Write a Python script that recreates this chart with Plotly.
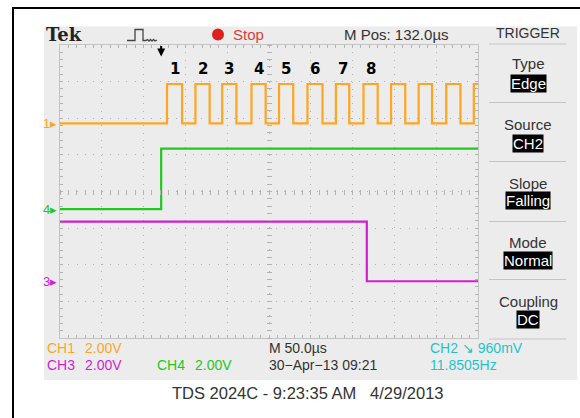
import plotly.graph_objects as go

# ---------------- data ----------------
TIME_RANGE_US = [-121, 379]          # 10 div x 50 us, trigger at t = 0
CH1_RISE_US = [7, 41, 73, 108, 141, 175, 209, 242, 275, 308, 341, 374]
CH1_FALL_US = [25, 58, 90, 125, 158, 193, 225, 259, 292, 324, 358]
CH1_HIGH_V = 2.15
CH4_RISE_US = 0
CH4_HIGH_V = 3.3
CH3_FALL_US = 246
CH3_HIGH_V = 3.25
VOLTS_PER_DIV = 2.0
CH1_OFFSET_DIV = 1.86
CH4_OFFSET_DIV = -0.48
CH3_OFFSET_DIV = -2.45
PULSE_LABELS = ["1", "2", "3", "4", "5", "6", "7", "8"]

ORANGE = "#ffa51f"
GREEN = "#22c822"
MAGENTA = "#d21ed2"
CYAN = "#1ec4cc"
GRID = "#b2b2b2"
TXT = "#333333"
FONT = "Liberation Sans, Arial, sans-serif"

# ---------------- geometry helpers (pixel -> paper) ----------------
L, T, R, B = 60, 45, 478, 338
W, H = R - L, B - T


def px(x):
    return (x - L) / W


def py(y):
    return (B - y) / H


def div(offset, volts):
    return offset + volts / VOLTS_PER_DIV


# ---------------- traces ----------------
t0, t1 = TIME_RANGE_US
ch1_x = [t0]
ch1_y = [div(CH1_OFFSET_DIV, 0)]
for i, r in enumerate(CH1_RISE_US):
    ch1_x.append(r)
    ch1_y.append(div(CH1_OFFSET_DIV, CH1_HIGH_V))
    if i < len(CH1_FALL_US):
        ch1_x.append(CH1_FALL_US[i])
        ch1_y.append(div(CH1_OFFSET_DIV, 0))
ch1_x.append(t1)
ch1_y.append(ch1_y[-1])

ch4_x = [t0, CH4_RISE_US, t1]
ch4_y = [div(CH4_OFFSET_DIV, 0), div(CH4_OFFSET_DIV, CH4_HIGH_V), div(CH4_OFFSET_DIV, CH4_HIGH_V)]
ch3_x = [t0, CH3_FALL_US, t1]
ch3_y = [div(CH3_OFFSET_DIV, CH3_HIGH_V), div(CH3_OFFSET_DIV, 0), div(CH3_OFFSET_DIV, 0)]

fig = go.Figure()
for xs, ys, col in [(ch1_x, ch1_y, ORANGE), (ch4_x, ch4_y, GREEN), (ch3_x, ch3_y, MAGENTA)]:
    fig.add_trace(go.Scatter(x=xs, y=ys, mode="lines", line=dict(color=col, width=2.2, shape="hv"),
                             showlegend=False, hoverinfo="skip"))

# dummy traces so the centre tick axes get drawn
fig.add_trace(go.Scatter(x=[None], y=[None], xaxis="x2", yaxis="y", showlegend=False, hoverinfo="skip"))
fig.add_trace(go.Scatter(x=[None], y=[None], xaxis="x", yaxis="y2", showlegend=False, hoverinfo="skip"))

# ---------------- axes ----------------
xgrid = dict(range=TIME_RANGE_US, tickmode="linear", tick0=t0, dtick=50,
             showticklabels=False, zeroline=False, fixedrange=True)
ygrid = dict(range=[-4, 4], tickmode="linear", tick0=-4, dtick=1,
             showticklabels=False, zeroline=False, fixedrange=True)

fig.update_layout(
    xaxis=dict(**xgrid, showgrid=True, gridcolor=GRID, griddash="1px,6.3px", gridwidth=1,
               ticks="inside", ticklen=3, tickcolor=GRID, showline=True, linecolor="#c4c4c4",
               mirror="allticks",
               minor=dict(tick0=t0, dtick=10, ticks="inside", ticklen=3, tickcolor=GRID, showgrid=False)),
    yaxis=dict(**ygrid, showgrid=True, gridcolor=GRID, griddash="1px,7.3px", gridwidth=1,
               ticks="inside", ticklen=3, tickcolor=GRID, showline=True, linecolor="#c4c4c4",
               mirror="allticks",
               minor=dict(tick0=-4, dtick=0.2, ticks="inside", ticklen=3, tickcolor=GRID, showgrid=False)),
    xaxis2=dict(range=TIME_RANGE_US, overlaying="x", anchor="free", position=0.5 + 2.5 / H,
                tickmode="linear", tick0=t0, dtick=10, ticks="outside", ticklen=5, tickcolor=GRID,
                showticklabels=False, showgrid=False, zeroline=False, showline=False, fixedrange=True),
    yaxis2=dict(range=[-4, 4], overlaying="y", anchor="free", position=0.5 + 2.5 / W,
                tickmode="linear", tick0=-4, dtick=0.2, ticks="outside", ticklen=5, tickcolor=GRID,
                showticklabels=False, showgrid=False, zeroline=False, showline=False, fixedrange=True),
)

# ---------------- shapes ----------------
shapes = []
# grey instrument frame
shapes.append(dict(type="rect", xref="paper", yref="paper", x0=px(44), x1=px(577), y0=py(380), y1=py(26.5),
                   fillcolor="#ececec", line=dict(width=0), layer="below"))
# black outer border (left and top)
shapes.append(dict(type="line", xref="paper", yref="paper", x0=px(13), x1=px(13), y0=py(7), y1=py(420),
                   line=dict(color="black", width=2)))
shapes.append(dict(type="line", xref="paper", yref="paper", x0=px(12), x1=px(582), y0=py(8), y1=py(8),
                   line=dict(color="black", width=2)))
# right-panel dividers
for yy in [44, 102.5, 161.5, 221.5, 279.5, 339]:
    shapes.append(dict(type="line", xref="paper", yref="paper", x0=px(489), x1=px(566), y0=py(yy), y1=py(yy),
                       line=dict(color="#c4c4c4", width=1)))
# red stop dot
shapes.append(dict(type="circle", xref="paper", yref="paper", x0=px(212), x1=px(224), y0=py(40.5), y1=py(28.5),
                   fillcolor="#e02020", line=dict(width=0)))
# trigger pulse icon
icon = [(127, 40.5), (135, 40.5), (135, 29.5), (143, 29.5), (143, 40.5), (146, 40.5), (147.5, 39.5),
        (149, 41), (150.5, 39.5), (152, 41), (153.5, 39.5), (155, 41), (157, 40)]
path = "M " + " L ".join(f"{px(a):.5f},{py(b):.5f}" for a, b in icon)
shapes.append(dict(type="path", xref="paper", yref="paper", path=path, line=dict(color="#444444", width=1.3)))
fig.update_layout(shapes=shapes)

# ---------------- annotations ----------------
anns = []


def text(s, x, y, color=TXT, size=15, xanchor="left", family=FONT, **kw):
    anns.append(dict(text=s, x=px(x), y=py(y), xref="paper", yref="paper", showarrow=False,
                     xanchor=xanchor, yanchor="middle", font=dict(color=color, size=size, family=family), **kw))


# header
text("<b>Tek</b>", 44, 35, color="#222222", size=18, family="DejaVu Serif, serif")
text("Stop", 231, 35, color="#e03c3c", size=15)
text("M Pos: 132.0\u00b5s", 342, 34, size=15)
text("TRIGGER", 528, 33, size=14, xanchor="center")

# right trigger panel
panel = [("Type", 64, "Edge", 83), ("Source", 124, "CH2", 143), ("Slope", 183, "Falling", 201),
         ("Mode", 242, "Normal", 260), ("Coupling", 301, "DC", 319)]
for lab, ly, val, vy in panel:
    text(lab, 528, ly, size=15, xanchor="center")
    text(val, 528, vy, color="white", size=15, xanchor="center", bgcolor="black", borderpad=0)

# bottom status lines
text("CH1", 45, 348, color=ORANGE, size=14)
text("2.00V", 83, 348, color=ORANGE, size=14)
text("M 50.0\u00b5s", 267, 348, size=14)
text("CH2 \u2198 960mV", 428, 348, color=CYAN, size=14)
text("CH3", 45, 365, color=MAGENTA, size=14)
text("2.00V", 83, 365, color=MAGENTA, size=14)
text("CH4", 155, 365, color=GREEN, size=14)
text("2.00V", 193, 365, color=GREEN, size=14)
text("30\u2212Apr\u221213 09:21", 267, 365, size=14)
text("11.8505Hz", 428, 365, color=CYAN, size=14)

# caption
text("TDS 2024C - 9:23:35 AM\u00a0\u00a0\u00a04/29/2013", 170, 393, color="#333333", size=16.5)

# channel ground markers
for lab, off, col in [("1", CH1_OFFSET_DIV, ORANGE), ("4", CH4_OFFSET_DIV, GREEN), ("3", CH3_OFFSET_DIV, MAGENTA)]:
    anns.append(dict(text=lab + "\u25b8", x=px(59), y=off, xref="paper", yref="y", showarrow=False,
                     xanchor="right", yanchor="middle", font=dict(color=col, size=13, family=FONT)))

# pulse numbers over the first eight CH1 pulses
for lab, r, f in zip(PULSE_LABELS, CH1_RISE_US, CH1_FALL_US):
    anns.append(dict(text=f"<b>{lab}</b>", x=(r + f) / 2, y=div(CH1_OFFSET_DIV, CH1_HIGH_V),
                     xref="x", yref="y", showarrow=False, yshift=15, yanchor="middle",
                     font=dict(color="black", size=15, family="DejaVu Sans, sans-serif")))

# trigger position arrow
anns.append(dict(text="", x=CH4_RISE_US, y=py(56.5), xref="x", yref="paper", showarrow=True,
                 ax=0, ay=-12, arrowhead=2, arrowsize=0.8, arrowwidth=2, arrowcolor="black"))

fig.update_layout(annotations=anns)

fig.update_layout(width=580, height=418, margin=dict(l=L, r=580 - R, t=T, b=418 - B),
                  paper_bgcolor="white", plot_bgcolor="white", hovermode=False,
                  font=dict(family=FONT, color=TXT), showlegend=False)

fig.write_html("out.html", config={"displayModeBar": False})
